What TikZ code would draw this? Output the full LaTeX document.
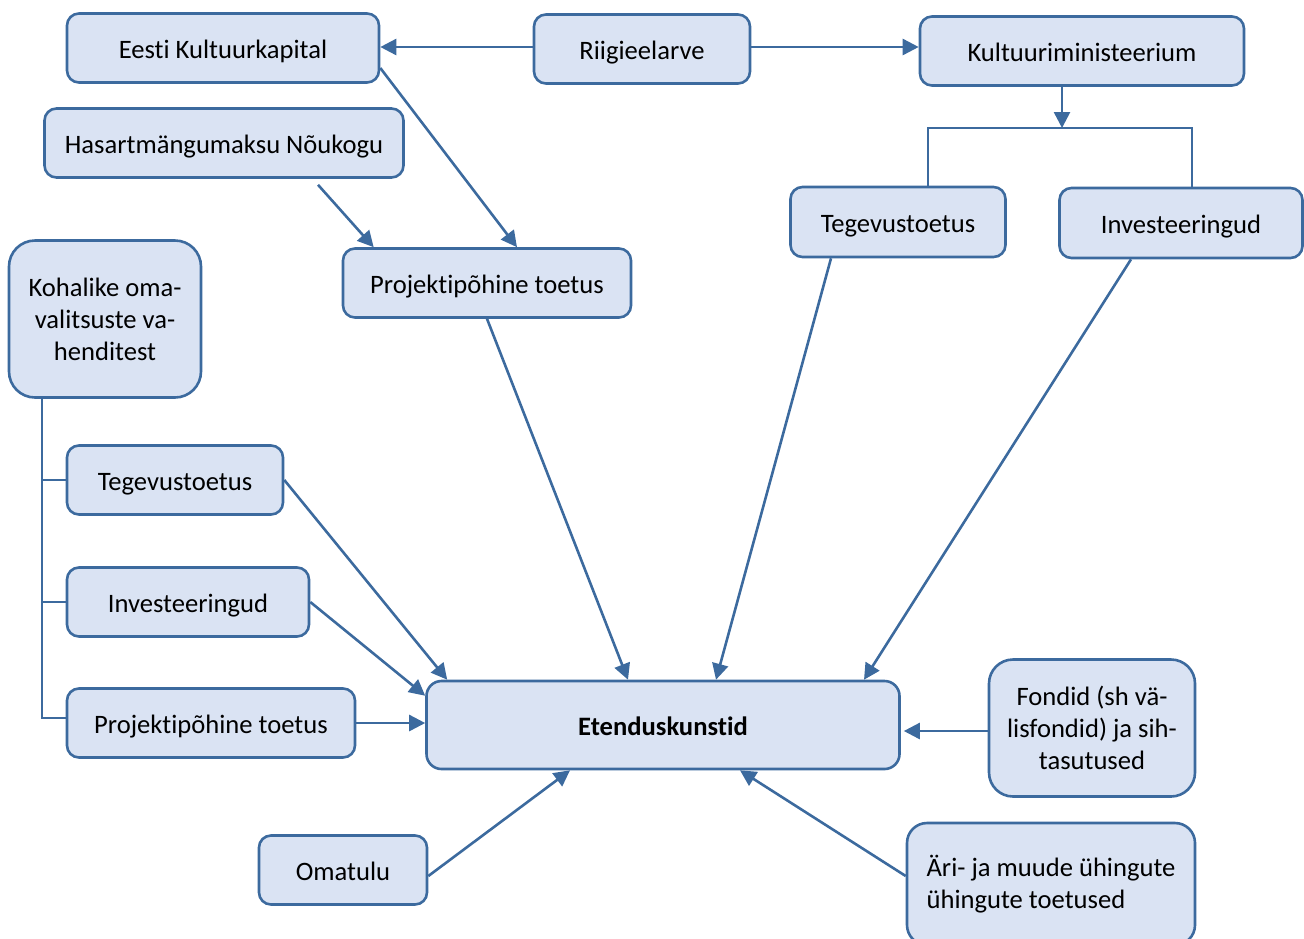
\documentclass[tikz,border=0pt]{standalone}
\usepackage{fontspec}
\setmainfont{Carlito}[Ligatures=NoCommon]
\usetikzlibrary{arrows.meta,calc}

\definecolor{boxfill}{HTML}{DAE3F3}
\definecolor{boxline}{HTML}{3C6A9E}

\tikzset{
    box/.style={draw=boxline, fill=boxfill, line width=1.3pt, rounded corners=6pt,
        align=center, inner sep=0pt, font=\fontsize{13.3}{16}\selectfont},
    onebox/.style={box, text height=11pt, text depth=1pt},
    link/.style={draw=boxline, line width=1.3pt, -{Triangle[length=8pt,width=8pt]}},
    plain/.style={draw=boxline, line width=1.3pt},
}

\begin{document}
\begin{tikzpicture}[x=0.5pt, y=-0.5pt]

    % Page frame (pixel grid of the reference)
    \useasboundingbox (0,0) rectangle (1304,938);

    % Top row: state budget and its two receivers
    \node[onebox, minimum width=156pt, minimum height=34.5pt] (eesti) at (223,48) {Eesti Kultuurkapital};
    \node[onebox, minimum width=108pt, minimum height=34.5pt] (riigi) at (642,49) {Riigieelarve};
    \node[onebox, minimum width=162pt, minimum height=34.5pt] (minist) at (1082,51) {Kultuuriministeerium};

    % Second level
    \node[onebox, minimum width=179.5pt, minimum height=34.5pt] (hasart) at (224,143) {Hasartmängumaksu Nõukogu};
    \node[onebox, minimum width=144pt, minimum height=34.5pt] (projT) at (487,283) {Projektipõhine toetus};
    \node[onebox, minimum width=107.5pt, minimum height=35pt] (tegR) at (898,222) {Tegevustoetus};
    \node[onebox, minimum width=121.5pt, minimum height=35pt] (invR) at (1181,223) {Investeeringud};

    % Local governments and their three kinds of support
    \node[box, rounded corners=13pt, minimum width=96pt, minimum height=78.5pt] (kohal) at (105,319)
        {Kohalike oma-\\valitsuste va-\\henditest};
    \node[onebox, minimum width=108pt, minimum height=34.5pt] (tegL) at (175,480) {Tegevustoetus};
    \node[onebox, minimum width=121pt, minimum height=34.5pt] (invL) at (188,602) {Investeeringud};
    \node[onebox, minimum width=144pt, minimum height=34.5pt] (projL) at (211,723) {Projektipõhine toetus};

    % Centre box and the other sources
    \node[onebox, rounded corners=7.5pt, minimum width=236.5pt, minimum height=44pt, font=\fontsize{13.3}{16}\selectfont\bfseries]
        (eten) at (663,725) {Etenduskunstid};
    \node[box, rounded corners=12pt, minimum width=103pt, minimum height=68.5pt] (fond) at (1092,728)
        {Fondid (sh vä-\\lisfondid) ja sih-\\tasutused};
    \node[onebox, minimum width=84pt, minimum height=34.5pt] (omat) at (343,870) {Omatulu};
    \node[box, rounded corners=10pt, align=left, minimum width=144pt, minimum height=61pt] (ari) at (1051,884)
        {Äri- ja muude ühingute\\ühingute toetused};

    % Riigieelarve splits left and right
    \draw[link] (riigi.west |- 0,47) -- (eesti.east |- 0,47);
    \draw[link] (riigi.east |- 0,47) -- (minist.west |- 0,47);

    % Ministry bracket
    \coordinate (split) at (1062,128);
    \coordinate (brL) at (928,128);
    \coordinate (brR) at (1192,128);
    \draw[link] (minist.south -| split) -- (split);
    \draw[plain] (brL |- tegR.north) -- (brL) -- (brR) -- (brR |- invR.north);

    % Into project support
    \draw[link] ([yshift=-10pt]eesti.east) -- ([xshift=15pt]projT.north);
    \draw[link] ([xshift=47pt,yshift=-3pt]hasart.south) -- ([xshift=16pt]projT.north west);

    % Down to Etenduskunstid
    \draw[link] (projT.south) -- ([xshift=-17.5pt]eten.north);
    \draw[link] ([xshift=-33.5pt]tegR.south) -- ([xshift=26.5pt]eten.north);
    \draw[link] ([xshift=-25pt]invR.south) -- ([xshift=100.5pt]eten.north);

    % Local trunk line
    \coordinate (trunk) at (42,718);
    \draw[plain] (kohal.south -| trunk) -- (trunk) -- (trunk -| projL.west);
    \foreach \b in {tegL,invL} {
        \draw[plain] (\b.west -| trunk) -- (\b.west);
    }

    \draw[link] (tegL.east) -- ([xshift=11pt]eten.north west);
    \draw[link] (invL.east) -- ([yshift=-8pt]eten.north west);
    \draw[link] (projL.east) -- (projL.east -| eten.west);

    % Other sources
    \draw[link, shorten >=1.5pt] ([yshift=-1.5pt]fond.west) -- ([yshift=-1.5pt]fond.west -| eten.east);
    \draw[link] ([yshift=-3pt]omat.east) -- ([xshift=-46.5pt]eten.south);
    \draw[link] ([yshift=4pt]ari.west) -- ([xshift=38.5pt]eten.south);

\end{tikzpicture}
\end{document}
